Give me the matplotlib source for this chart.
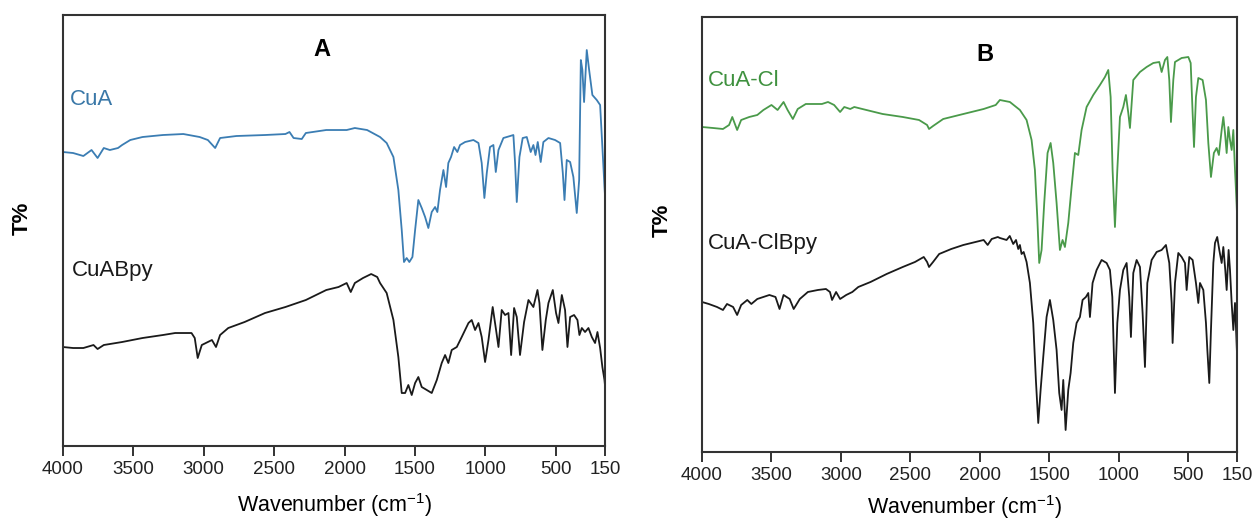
import numpy as np
import matplotlib
matplotlib.use("Agg")
import matplotlib.pyplot as plt

plt.rcParams['font.family'] = ['Liberation Sans', 'DejaVu Sans']
plt.rcParams['mathtext.default'] = 'regular'

# panel A spectra (wavenumber, T% arbitrary units)
cua_wn = [4000, 3928, 3855, 3797, 3754, 3710, 3667, 3609, 3580, 3522, 3435, 3290, 3145, 3029,
          2971, 2919, 2884, 2768, 2565, 2420, 2391, 2362, 2304, 2275, 2130, 1985, 1927, 1840,
          1748, 1701, 1653, 1618, 1594, 1578, 1559, 1540, 1518, 1499, 1476, 1452, 1428, 1405,
          1381, 1357, 1341, 1322, 1298, 1279, 1263, 1244, 1222, 1199, 1180, 1144, 1085, 1049,
          1026, 1007, 990, 967, 943, 926, 907, 872, 824, 801, 789, 777, 758, 735, 706, 678,
          659, 644, 628, 607, 588, 552, 505, 469, 450, 438, 422, 398, 375, 351, 334, 322,
          311, 299, 280, 263, 240, 209, 185, 169, 154, 150]
cua_t = [294, 293, 290, 296, 288, 298, 296, 298, 301, 306, 309, 311, 312, 309,
         306, 298, 308, 310, 311, 312, 314, 308, 307, 313, 316, 316, 318, 316,
         309, 303, 289, 256, 216, 184, 188, 184, 189, 216, 246, 238, 229, 218,
         234, 239, 234, 256, 276, 259, 283, 289, 299, 294, 301, 304, 306, 303,
         283, 248, 273, 299, 301, 274, 296, 308, 310, 311, 283, 244, 289, 308, 309, 294,
         301, 291, 304, 284, 304, 308, 306, 303, 273, 246, 286, 284, 269, 233, 266, 386,
         376, 344, 396, 376, 351, 346, 341, 299, 259, 250]

cuabpy_wn = [4000, 3928, 3855, 3783, 3754, 3710, 3580, 3435, 3290, 3203, 3145, 3087, 3064, 3043,
             3014, 2971, 2942, 2913, 2884, 2826, 2710, 2565, 2420, 2275, 2130, 2043, 1985, 1956,
             1927, 1869, 1811, 1768, 1748, 1701, 1653, 1618, 1594, 1570, 1547, 1523, 1499, 1476,
             1452, 1416, 1381, 1345, 1310, 1286, 1263, 1239, 1203, 1168, 1120, 1097, 1073, 1049,
             1026, 1002, 978, 948, 924, 907, 884, 860, 836, 817, 796, 777, 754, 725, 694, 659,
             630, 616, 595, 571, 552, 521, 498, 481, 457, 434, 417, 398, 370, 346, 332, 315,
             292, 268, 244, 221, 204, 185, 169, 154, 150]
cuabpy_t = [99, 98, 98, 101, 97, 101, 104, 108, 111, 113, 113, 113, 108, 88,
            101, 104, 106, 99, 111, 118, 124, 133, 139, 146, 156, 159, 163, 154,
            163, 168, 172, 169, 163, 153, 126, 89, 53, 53, 61, 51, 63, 69,
            59, 56, 53, 66, 83, 91, 83, 96, 99, 109, 123, 126, 116, 123,
            109, 84, 106, 139, 116, 99, 136, 131, 133, 91, 138, 129, 91, 124, 146, 139,
            156, 143, 96, 126, 143, 156, 133, 123, 151, 136, 99, 129, 131, 126, 111, 118,
            114, 118, 109, 103, 114, 98, 79, 66, 60]

# panel B spectra
cucl_wn = [4000, 3921, 3849, 3805, 3782, 3747, 3718, 3660, 3602, 3558, 3500, 3456, 3413, 3384,
           3346, 3311, 3253, 3195, 3137, 3093, 3049, 3006, 2976, 2933, 2904, 2846, 2700, 2555,
           2438, 2380, 2366, 2337, 2264, 2119, 1973, 1886, 1856, 1784, 1712, 1664, 1628, 1604,
           1587, 1573, 1556, 1537, 1513, 1491, 1472, 1448, 1424, 1405, 1388, 1364, 1340, 1316,
           1292, 1268, 1232, 1184, 1136, 1100, 1076, 1059, 1045, 1028, 1011, 992, 968, 949,
           932, 920, 896, 848, 800, 752, 709, 692, 668, 651, 637, 625, 608, 596, 548, 500,
           483, 469, 459, 445, 428, 397, 373, 356, 337, 316, 296, 280, 260, 248, 236, 224,
           212, 200, 188, 176, 164, 152, 150]
cucl_t = [325, 324, 323, 327, 335, 322, 332, 335, 337, 342, 347, 342, 350, 342,
          333, 343, 348, 348, 348, 350, 347, 340, 345, 343, 345, 343, 338, 335,
          332, 327, 323, 326, 333, 338, 343, 347, 352, 350, 342, 332, 312, 282,
          235, 189, 202, 249, 299, 309, 289, 249, 202, 212, 205, 229, 265, 299,
          297, 322, 345, 357, 367, 375, 382, 355, 282, 225, 282, 335, 345, 357,
          339, 324, 372, 380, 385, 389, 390, 380, 392, 395, 372, 330, 372, 390, 394, 395,
          389, 339, 305, 355, 374, 372, 352, 309, 275, 299, 304, 297, 322, 335, 319, 299,
          325, 312, 302, 322, 282, 247, 240]

cuclbpy_wn = [4000, 3951, 3892, 3849, 3820, 3776, 3747, 3718, 3674, 3645, 3602, 3558, 3515, 3471,
              3442, 3413, 3369, 3340, 3296, 3238, 3166, 3108, 3079, 3064, 3035, 3006, 2962, 2918,
              2875, 2787, 2671, 2555, 2467, 2404, 2380, 2366, 2337, 2293, 2206, 2119, 2031, 1973,
              1944, 1915, 1871, 1856, 1808, 1785, 1760, 1740, 1724, 1712, 1700, 1685, 1664, 1640,
              1616, 1597, 1580, 1563,
              1544, 1520, 1496, 1472, 1448, 1429, 1412, 1400, 1383, 1364, 1347, 1328, 1304, 1280,
              1261, 1237, 1220, 1208, 1189, 1160, 1124, 1088, 1064, 1047, 1028, 1011, 992, 968,
              944, 925, 913, 896, 872, 848, 829, 812, 795, 764, 728, 692, 661, 637, 620, 613,
              596, 572, 548, 524, 512, 493, 469, 445, 428, 416, 392, 373, 363, 349, 337, 320,
              308, 292, 277, 260, 248, 234, 224, 210, 200, 188, 176, 164, 152, 150]
cuclbpy_t = [150, 148, 145, 142, 148, 145, 137, 147, 152, 148, 153, 155, 157, 155,
             143, 157, 153, 143, 153, 160, 162, 163, 160, 152, 160, 153, 157, 160,
             165, 170, 178, 185, 190, 195, 190, 185, 190, 198, 203, 207, 210, 212,
             207, 213, 215, 214, 212, 216, 208, 212, 203, 207, 198, 200, 190, 169,
             129, 72, 29, 62,
             95, 135, 152, 132, 102, 59, 42, 72, 22, 62, 79, 109, 129, 135,
             152, 155, 159, 135, 169, 182, 192, 189, 182, 155, 59, 129, 162, 182,
             189, 155, 115, 179, 192, 185, 139, 85, 169, 192, 200, 202, 207, 189, 149, 109,
             169, 199, 195, 189, 162, 195, 192, 169, 149, 169, 162, 129, 102, 69, 122, 189,
             209, 215, 202, 189, 205, 182, 162, 202, 182, 149, 122, 149, 109, 100]

xticks = [4000, 3500, 3000, 2500, 2000, 1500, 1000, 500, 150]

fig = plt.figure(figsize=(12.54, 5.23), dpi=100)
axA = fig.add_axes([0.0502, 0.1472, 0.4323, 0.8241])
axB = fig.add_axes([0.5598, 0.1358, 0.4266, 0.8317])

axA.plot(cua_wn, cua_t, color='#3b7db3', lw=1.3)
axA.plot(cuabpy_wn, cuabpy_t, color='#1a1a1a', lw=1.3)
axA.set_ylim(0, 431)
axA.text(0.478, 0.919, 'A', transform=axA.transAxes, fontsize=17, fontweight='bold',
         ha='center', va='center')
axA.text(0.013, 0.803, 'CuA', transform=axA.transAxes, fontsize=16, color='#3a78a8',
         ha='left', va='center')
axA.text(0.017, 0.408, 'CuABpy', transform=axA.transAxes, fontsize=16, color='#1a1a1a',
         ha='left', va='center')

axB.plot(cucl_wn, cucl_t, color='#4a9a4a', lw=1.3)
axB.plot(cuclbpy_wn, cuclbpy_t, color='#1a1a1a', lw=1.3)
axB.set_ylim(0, 435)
axB.text(0.529, 0.913, 'B', transform=axB.transAxes, fontsize=17, fontweight='bold',
         ha='center', va='center')
axB.text(0.011, 0.855, 'CuA-Cl', transform=axB.transAxes, fontsize=16, color='#3f913f',
         ha='left', va='center')
axB.text(0.011, 0.48, 'CuA-ClBpy', transform=axB.transAxes, fontsize=16, color='#1a1a1a',
         ha='left', va='center')

for ax in (axA, axB):
    ax.set_xlim(4000, 150)
    ax.set_xticks(xticks)
    ax.set_xticklabels([str(t) for t in xticks])
    ax.set_yticks([])
    ax.tick_params(axis='x', direction='out', length=7, width=1.3, labelsize=13.5,
                   colors='#222222', pad=4)
    for s in ax.spines.values():
        s.set_linewidth(1.5)
        s.set_color('#333333')

fig.text(22 / 1254, 1 - 218 / 523, 'T%', rotation=90, fontsize=16, fontweight='bold',
         ha='center', va='center')
fig.text(662 / 1254, 1 - 220 / 523, 'T%', rotation=90, fontsize=16, fontweight='bold',
         ha='center', va='center')
fig.text(335 / 1254, 1 - 505 / 523, 'Wavenumber (cm$^{-1}$)', fontsize=15.5,
         ha='center', va='center')
fig.text(965 / 1254, 1 - 507 / 523, 'Wavenumber (cm$^{-1}$)', fontsize=15.5,
         ha='center', va='center')

fig.savefig('out.png', dpi=100)
